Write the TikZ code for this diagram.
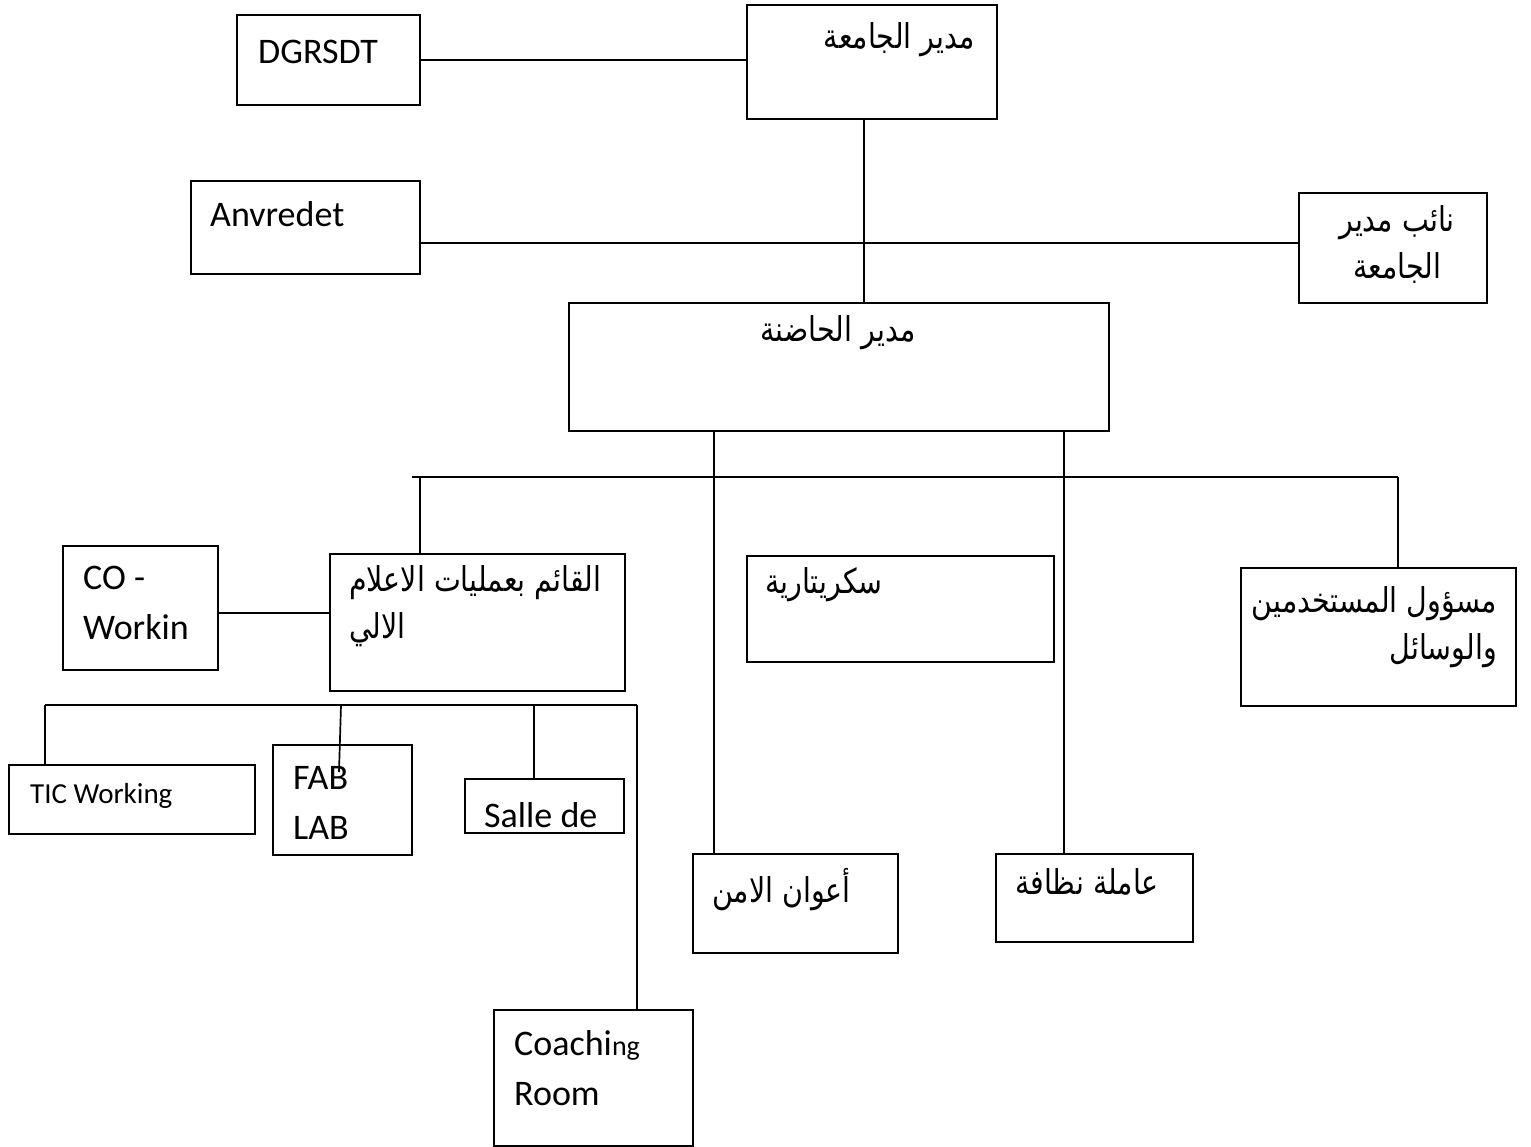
\documentclass[tikz,border=0pt]{standalone}
\usepackage{fontspec}
\usepackage{graphicx}
\setmainfont{Carlito}
\newfontfamily\arfont[Script=Arabic]{DejaVu Sans}
\TeXXeTstate=1
\newcommand\arx[1]{\scalebox{1}[1.2]{\beginR #1\endR}}
\begin{document}
\begin{tikzpicture}[x=1pt,y=-1pt,
  box/.style={draw, line width=1.9pt, inner sep=0pt, anchor=north west},
  wire/.style={line width=1.7pt},
  lat/.style={inner sep=0pt, font=\fontsize{36}{50}\selectfont, align=left},
  latsmall/.style={inner sep=0pt, font=\fontsize{29}{40}\selectfont, align=left},
  ar/.style={inner sep=0pt, font=\arfont\fontsize{28.5}{47}\selectfont}]
\useasboundingbox[fill=white] (0,0) rectangle (1531,1147);

% boxes
\node[box, minimum width=183, minimum height=90]  (dg)    at (236,14)   {};
\node[box, minimum width=250, minimum height=114] (mj)    at (746,4)    {};
\node[box, minimum width=229, minimum height=93]  (an)    at (190,180)  {};
\node[box, minimum width=188, minimum height=110] (nm)    at (1298,192) {};
\node[box, minimum width=540, minimum height=128] (mh)    at (568,302)  {};
\node[box, minimum width=155, minimum height=124] (co)    at (62,545)   {};
\node[box, minimum width=295, minimum height=137] (qa)    at (329,553)  {};
\node[box, minimum width=307, minimum height=106] (sk)    at (746,555)  {};
\node[box, minimum width=275, minimum height=138] (ms)    at (1240,567) {};
\node[box, minimum width=246, minimum height=69]  (tic)   at (8,764)    {};
\node[box, minimum width=139, minimum height=110] (fab)   at (272,744)  {};
\node[box, minimum width=159, minimum height=54]  (sal)   at (464,778)  {};
\node[box, minimum width=199, minimum height=136] (coach) at (493,1009) {};
\node[box, minimum width=205, minimum height=99]  (aw)    at (692,853)  {};
\node[box, minimum width=197, minimum height=88]  (am)    at (995,853)  {};

% texts
\node[lat, anchor=north west] (dgt) at (258,40) {DGRSDT};
\node[ar, anchor=north east] (mjt) at (975,22) {\arx{مدير الجامعة}};
\node[lat, anchor=north west] (ant) at (210,201) {Anvredet};
\node[ar, align=center, anchor=north] (nmt) at (1397,205) {\arx{نائب مدير}\\\arx{الجامعة}};
\node[ar, anchor=north] (mht) at (838,315) {\arx{مدير الحاضنة}};
\node[lat, anchor=north west] (cot) at (83,566) {CO -\\Workin};
\node[ar, align=left, anchor=north west] (qat) at (349,565) {\arx{القائم بعمليات الاعلام}\\\arx{الالي}};
\node[ar, anchor=north west] (skt) at (765,567) {\arx{سكريتارية}};
\node[ar, align=right, anchor=north east] (mst) at (1497,586) {\arx{مسؤول المستخدمين}\\\arx{والوسائل}};
\node[latsmall, anchor=north west] (tict) at (30,783) {TIC Working};
\node[lat, anchor=north west] (fabt) at (293,766) {FAB\\LAB};
\node[lat, anchor=north west] (salt) at (484,802) {Salle de};
\node[lat, anchor=north west] (coacht) at (514,1030) {Coachi{\fontsize{28}{40}\selectfont ng}\\Room};
\node[ar, anchor=north west] (awt) at (712,868) {\arx{أعوان الامن}};
\node[ar, anchor=north west] (amt) at (1015,868) {\arx{عاملة نظافة}};

% connectors
\draw[wire] (dg.east) -- (dg.east -| mj.west);
\coordinate (v1) at (864,118);
\draw[wire] (v1) -- (v1 |- mh.north);
\draw[wire] ([yshift=-15.5pt]an.east) -- ([yshift=-15.5pt]an.east -| nm.west);
\coordinate (m1) at (714,430);
\coordinate (m2) at (1064,430);
\draw[wire] (m1) -- (m1 |- aw.north);
\draw[wire] (m2) -- (m2 |- am.north);
\coordinate (b1) at (412,477);
\coordinate (b2) at (1398,477);
\coordinate (t1) at (420,477);
\draw[wire] (b1) -- (b2);
\draw[wire] (t1) -- (t1 |- qa.north);
\draw[wire] (b2) -- (b2 |- ms.north);
\draw[wire] ([yshift=-5pt]co.east) -- ([yshift=-5pt]co.east -| qa.west);
\coordinate (l1) at (45,705);
\coordinate (l2) at (637,705);
\coordinate (l3) at (341,705);
\coordinate (l4) at (534,705);
\coordinate (fabin) at (339,772);
\draw[wire] (l1) -- (l2);
\draw[wire] (l1) -- (l1 |- tic.north);
\draw[wire] (l3) -- (fabin);
\draw[wire] (l4) -- (l4 |- sal.north);
\draw[wire] (l2) -- (l2 |- coach.north);
\end{tikzpicture}
\end{document}
